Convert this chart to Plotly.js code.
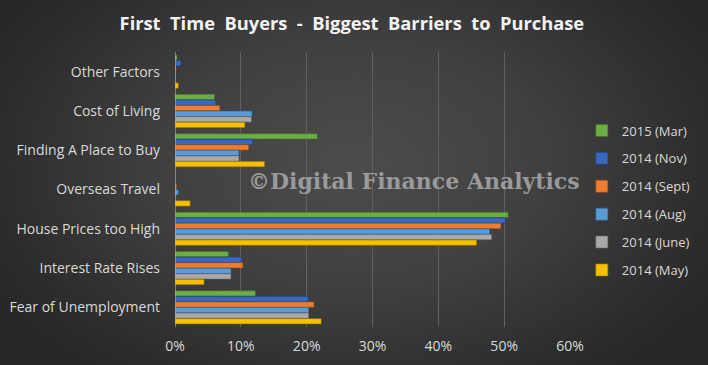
<!DOCTYPE html>
<html>
<head>
<meta charset="utf-8">
<script src="https://cdn.plot.ly/plotly-3.0.1.min.js"></script>
<style>
html, body { margin:0; padding:0; width:708px; height:365px; overflow:hidden; }
#chart { width:708px; height:365px;
  background: radial-gradient(ellipse 60% 75% at 50% 45%, #4c4c4c 0%, #404040 45%, #2c2c2c 85%, #262626 100%); }
</style>
</head>
<body>
<div id="chart"></div>
<script>
const categories = ["Other Factors", "Cost of Living", "Finding A Place to Buy", "Overseas Travel",
  "House Prices too High", "Interest Rate Rises", "Fear of Unemployment"];
const seriesNames = ["2015 (Mar)", "2014 (Nov)", "2014 (Sept)", "2014 (Aug)", "2014 (June)", "2014 (May)"];
const mar2015  = [0.3, 6.0, 21.6, 0.0, 50.6, 8.1, 12.2];
const nov2014  = [0.9, 6.2, 11.8, 0.1, 50.2, 10.1, 20.2];
const sept2014 = [0.15, 6.8, 11.2, 0.2, 49.5, 10.3, 21.1];
const aug2014  = [0.1, 11.7, 9.7, 0.5, 47.8, 8.5, 20.3];
const june2014 = [0.0, 11.6, 9.7, 0.0, 48.1, 8.5, 20.3];
const may2014  = [0.5, 10.6, 13.6, 2.3, 45.8, 4.4, 22.2];
const seriesValues = [mar2015, nov2014, sept2014, aug2014, june2014, may2014];
const colors = ["#6cae44", "#3a67c2", "#ee7d31", "#5a9bd8", "#a9a9a9", "#f5c000"];
const edgeColors = ["#3f6e25", "#1f3f80", "#9a4c16", "#2e6394", "#666666", "#9a7800"];
const xTicks = [0, 10, 20, 30, 40, 50, 60];
const titleText = 'First Time Buyers - Biggest Barriers to Purchase';

const traces = seriesNames.map((name, i) => ({
  type: 'bar', orientation: 'h', name: name,
  y: categories, x: seriesValues[i],
  legendgroup: 'g' + i,
  marker: { color: colors[i], line: { color: edgeColors[i], width: 0.6 } },
  hoverinfo: 'x+y+name'
}));

const layout = {
  width: 708, height: 365,
  paper_bgcolor: 'rgba(0,0,0,0)', plot_bgcolor: 'rgba(0,0,0,0)',
  margin: { l: 175, r: 138, t: 52, b: 38, pad: 0 },
  title: { text: titleText.split(' ').join(' \u00A0'),
    font: { family: 'Open Sans', size: 18.3, color: '#f2f2f2', weight: 'bold' },
    x: 0.497, xanchor: 'center', y: 0.935, yanchor: 'middle' },
  barmode: 'group', bargap: 0.15, bargroupgap: 0.05,
  xaxis: {
    range: [0, 60], tickvals: xTicks, ticktext: xTicks.map(v => v + '%'),
    showgrid: true, gridcolor: '#606060', gridwidth: 1,
    zeroline: false, showline: false,
    tickfont: { family: 'Open Sans', size: 14, color: '#d9d9d9' },
    ticklabelstandoff: 9, fixedrange: true
  },
  yaxis: {
    type: 'category', autorange: 'reversed',
    showgrid: false, zeroline: false,
    showline: false,
    tickfont: { family: 'Open Sans', size: 14, color: '#d9d9d9' },
    ticklabelstandoff: 14, fixedrange: true
  },
  shapes: [{ type: 'line', xref: 'x', yref: 'paper', x0: 0, x1: 0, y0: 0, y1: 1,
    line: { color: '#bfbfbf', width: 1 } }],
  legend: {
    x: 1.03, xanchor: 'left', y: 0.46, yanchor: 'middle',
    traceorder: 'grouped', tracegroupgap: 8,
    font: { family: 'Open Sans', size: 13, color: '#d9d9d9' },
    bgcolor: 'rgba(0,0,0,0)'
  },
  annotations: [{
    text: '©Digital Finance Analytics', xref: 'paper', yref: 'paper',
    x: 0.605, y: 0.53, xanchor: 'center', yanchor: 'middle', showarrow: false,
    font: { family: 'DejaVu Serif', size: 22, color: 'rgba(170,170,170,0.85)', weight: 'bold' }
  }],
  showlegend: true
};

Plotly.newPlot('chart', traces, layout, { displayModeBar: false, staticPlot: true });
</script>
</body>
</html>
